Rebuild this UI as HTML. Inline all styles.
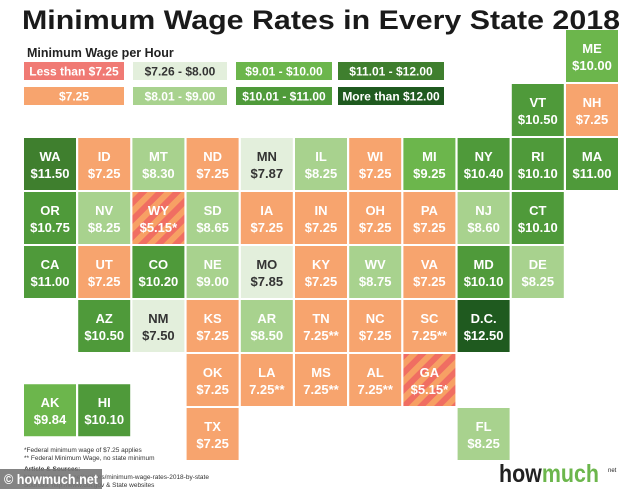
<!DOCTYPE html>
<html><head><meta charset="utf-8"><style>
html,body{margin:0;padding:0;background:#fff;}
svg{display:block;font-family:"Liberation Sans",sans-serif;}
</style></head><body>
<svg width="634" height="489" viewBox="0 0 634 489" xmlns="http://www.w3.org/2000/svg">
<defs>
<pattern id="st" patternUnits="userSpaceOnUse" width="12" height="12" patternTransform="rotate(45)">
<rect width="12" height="12" fill="#f06e62"/><rect width="6" height="12" fill="#f7a064"/>
</pattern>
</defs>
<text x="22" y="29" font-size="27" font-weight="bold" fill="#1a1a1a" textLength="598" lengthAdjust="spacingAndGlyphs">Minimum Wage Rates in Every State 2018</text>
<text x="27" y="57" font-size="12.5" font-weight="bold" fill="#222">Minimum Wage per Hour</text>
<g font-size="12" font-weight="bold" text-anchor="middle">
<rect x="24" y="62" width="100" height="18" fill="#f07a74"/><text x="74" y="75.5" fill="#fff">Less than $7.25</text>
<rect x="133" y="62" width="94" height="18" fill="#e3efdc"/><text x="180" y="75.5" fill="#333">$7.26 - $8.00</text>
<rect x="236" y="62" width="96" height="18" fill="#6cb64c"/><text x="284" y="75.5" fill="#fff">$9.01 - $10.00</text>
<rect x="338" y="62" width="106" height="18" fill="#3f7f2e"/><text x="391" y="75.5" fill="#fff">$11.01 - $12.00</text>
<rect x="24" y="87" width="100" height="18" fill="#f7a46e"/><text x="74" y="100.5" fill="#fff">$7.25</text>
<rect x="133" y="87" width="94" height="18" fill="#a8d28e"/><text x="180" y="100.5" fill="#fff">$8.01 - $9.00</text>
<rect x="236" y="87" width="96" height="18" fill="#4f9a3a"/><text x="284" y="100.5" fill="#fff">$10.01 - $11.00</text>
<rect x="338" y="87" width="106" height="18" fill="#1f5a1f"/><text x="391" y="100.5" fill="#fff">More than $12.00</text>
</g>
<g id="cells" font-size="13" font-weight="bold" text-anchor="middle"></g>
<g font-size="6.5" fill="#333">
<text x="24" y="452">*Federal minimum wage of $7.25 applies</text>
<text x="24" y="460">** Federal Minimum Wage, no state minimum</text>
<text x="24" y="471" font-weight="bold">Article &amp; Sources:</text>
<text x="24" y="479">https://howmuch.net/articles/minimum-wage-rates-2018-by-state</text>
<text x="24" y="487">Sources: http://www.dol.gov &amp; State websites</text>
</g>
<rect x="0" y="469" width="102" height="20" fill="#777" opacity="0.9"/>
<text x="4" y="484" font-size="13.5" font-weight="bold" fill="#fff" textLength="94" lengthAdjust="spacingAndGlyphs">© howmuch.net</text>
<text x="499" y="482" font-size="25" font-weight="bold" fill="#222" textLength="100" lengthAdjust="spacingAndGlyphs">how<tspan fill="#6cb64c">much</tspan></text>
<text x="608" y="472" font-size="6" fill="#222">net</text>
</svg>
<script>
var C={o:"#f7a46e",p:"#e3efdc",l:"#a8d28e",m:"#6cb64c",d:"#4f9a3a",e:"#3f7f2e",x:"#1f5a1f",s:"url(#st)"};
var D=[
["ME","$10.00",10,0,"m"],["VT","$10.50",9,1,"d"],["NH","$7.25",10,1,"o"],
["WA","$11.50",0,2,"e"],["ID","$7.25",1,2,"o"],["MT","$8.30",2,2,"l"],["ND","$7.25",3,2,"o"],["MN","$7.87",4,2,"p"],["IL","$8.25",5,2,"l"],["WI","$7.25",6,2,"o"],["MI","$9.25",7,2,"m"],["NY","$10.40",8,2,"d"],["RI","$10.10",9,2,"d"],["MA","$11.00",10,2,"d"],
["OR","$10.75",0,3,"d"],["NV","$8.25",1,3,"l"],["WY","$5.15*",2,3,"s"],["SD","$8.65",3,3,"l"],["IA","$7.25",4,3,"o"],["IN","$7.25",5,3,"o"],["OH","$7.25",6,3,"o"],["PA","$7.25",7,3,"o"],["NJ","$8.60",8,3,"l"],["CT","$10.10",9,3,"d"],
["CA","$11.00",0,4,"d"],["UT","$7.25",1,4,"o"],["CO","$10.20",2,4,"d"],["NE","$9.00",3,4,"l"],["MO","$7.85",4,4,"p"],["KY","$7.25",5,4,"o"],["WV","$8.75",6,4,"l"],["VA","$7.25",7,4,"o"],["MD","$10.10",8,4,"d"],["DE","$8.25",9,4,"l"],
["AZ","$10.50",1,5,"d"],["NM","$7.50",2,5,"p"],["KS","$7.25",3,5,"o"],["AR","$8.50",4,5,"l"],["TN","7.25**",5,5,"o"],["NC","$7.25",6,5,"o"],["SC","7.25**",7,5,"o"],["D.C.","$12.50",8,5,"x"],
["OK","$7.25",3,6,"o"],["LA","7.25**",4,6,"o"],["MS","7.25**",5,6,"o"],["AL","7.25**",6,6,"o"],["GA","$5.15*",7,6,"s"],
["TX","$7.25",3,7,"o"],["FL","$8.25",8,7,"l"],["AK","$9.84",0,6.56,"m"],["HI","$10.10",1,6.56,"d"]];
var g=document.getElementById("cells"),h="";
D.forEach(function(d){var x=24+d[2]*54.2,y=30+d[3]*54,tc=d[4]=="p"?"#333":"#fff";
h+='<rect x="'+x+'" y="'+y+'" width="52" height="52" fill="'+C[d[4]]+'"/>'+
'<text x="'+(x+26)+'" y="'+(y+23)+'" fill="'+tc+'">'+d[0]+'</text>'+
'<text x="'+(x+26)+'" y="'+(y+40)+'" fill="'+tc+'">'+d[1]+'</text>';});
g.innerHTML=h;
</script>
</body></html>
